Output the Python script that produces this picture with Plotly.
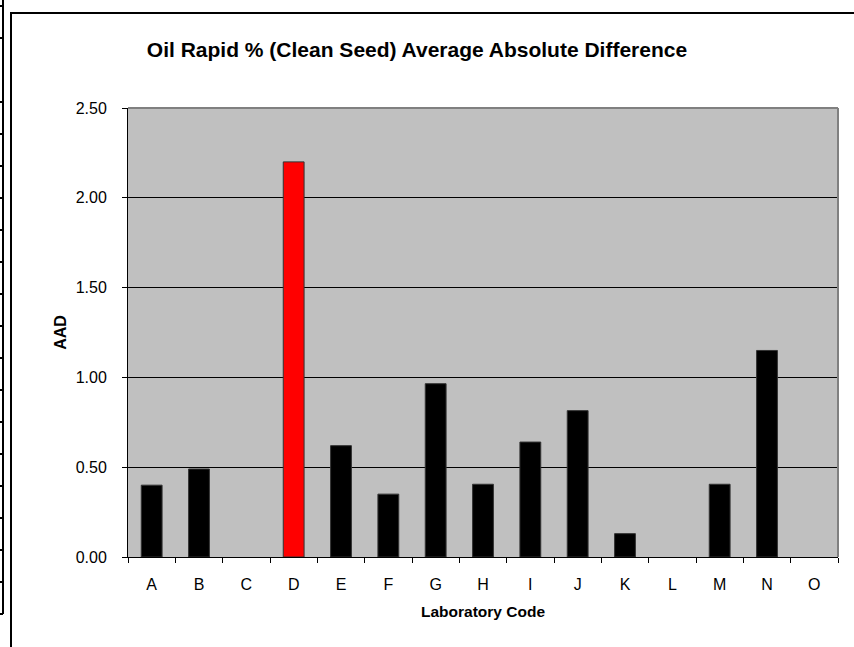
import plotly.graph_objects as go

labs = ["A", "B", "C", "D", "E", "F", "G", "H", "I", "J", "K", "L", "M", "N", "O"]
aad = [0.40, 0.49, 0.0, 2.20, 0.62, 0.35, 0.965, 0.405, 0.64, 0.815, 0.13, 0.0, 0.405, 1.15, 0.0]
highlight = "D"

W, H = 854, 647
L, R, T, B = 128, 838, 108, 557

def px(x):
    return (x - L) / (R - L)

def py(y):
    return (B - y) / (B - T)

colors = ["#FF0000" if c == highlight else "#000000" for c in labs]
edge_w = [1 if v > 0 else 0 for v in aad]

fig = go.Figure(go.Bar(
    x=labs, y=aad,
    marker=dict(color=colors, line=dict(color="#333333", width=edge_w)),
))

shapes = []
# plot area top and right border (gray)
shapes.append(dict(type="line", xref="paper", yref="paper", x0=0, x1=1, y0=1, y1=1,
                   line=dict(color="#808080", width=2)))
shapes.append(dict(type="line", xref="paper", yref="paper", x0=1, x1=1, y0=0, y1=1,
                   line=dict(color="#808080", width=2)))
# chart frame
shapes.append(dict(type="rect", xref="paper", yref="paper", x0=px(11), x1=px(870),
                   y0=py(670), y1=py(13), line=dict(color="#000000", width=2)))
# left strip (neighbouring cells)
shapes.append(dict(type="line", xref="paper", yref="paper", x0=px(3), x1=px(3),
                   y0=py(614), y1=py(-5), line=dict(color="#000000", width=2)))
shapes.append(dict(type="line", xref="paper", yref="paper", x0=px(-2), x1=px(3),
                   y0=py(614), y1=py(614), line=dict(color="#000000", width=2)))
for yy in [6] + [38 + 32 * k for k in range(18) if k != 1]:
    shapes.append(dict(type="line", xref="paper", yref="paper", x0=px(-2), x1=px(3),
                       y0=py(yy), y1=py(yy), line=dict(color="#000000", width=2)))

font = "Liberation Sans, Arial, sans-serif"

fig.update_layout(
    width=W, height=H, autosize=False,
    margin=dict(l=L, r=W - R, t=T, b=H - B),
    paper_bgcolor="#FFFFFF", plot_bgcolor="#C0C0C0",
    bargap=0.56,
    showlegend=False,
    font=dict(family=font, size=16, color="#000000"),
    title=dict(text="<b>Oil Rapid % (Clean Seed) Average Absolute Difference</b>",
               x=417 / W, xanchor="center", y=1 - 50 / H, yanchor="middle",
               font=dict(family=font, size=21, color="#000000")),
    shapes=shapes,
)
fig.update_xaxes(
    showline=True, linecolor="#000000", linewidth=1,
    ticks="outside", tickson="boundaries", ticklen=5, tickcolor="#000000",
    showgrid=False, automargin=False, ticklabelstandoff=13,
    tickfont=dict(family=font, size=16),
    title=dict(text="<b>Laboratory Code</b>", standoff=13, font=dict(family=font, size=15.5)),
)
fig.update_yaxes(
    range=[0, 2.5], dtick=0.5, tickformat=".2f",
    showline=True, linecolor="#000000", linewidth=1,
    ticks="outside", ticklen=5, tickcolor="#000000",
    showgrid=True, gridcolor="#000000", gridwidth=1, zeroline=False,
    automargin=False, ticklabelstandoff=12,
    tickfont=dict(family=font, size=16),
    title=dict(text="<b>AAD</b>", standoff=5, font=dict(family=font, size=16)),
)

fig.write_html("out.html", config={"displayModeBar": False},
               post_script="document.body.style.margin='0';")
